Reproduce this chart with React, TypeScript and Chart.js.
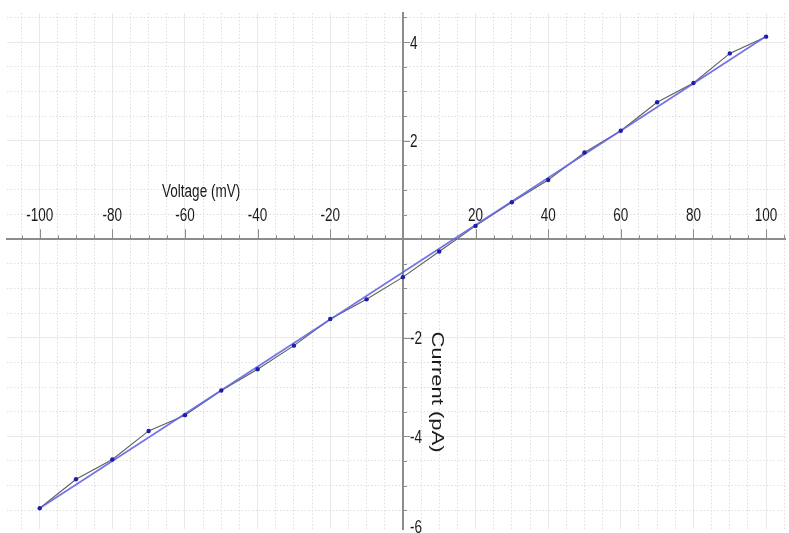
import React, { useEffect, useRef } from 'react';
import { Chart, registerables } from 'chart.js';

Chart.register(...registerables);

// Measured I–V points (mV, pA)
const voltage = [-100, -90, -80, -70, -60, -50, -40, -30, -20, -10, 0, 10, 20, 30, 40, 50, 60, 70, 80, 90, 100];
const current = [-5.46, -4.87, -4.47, -3.89, -3.57, -3.07, -2.64, -2.16, -1.62, -1.22, -0.77, -0.25, 0.27, 0.75, 1.2, 1.76, 2.2, 2.78, 3.17, 3.77, 4.11];

// Linear fit end points
const fitVoltage = [-100, 100];
const fitCurrent = [-5.46, 4.12];

// Axis labelling
const xTickLabels = [-100, -80, -60, -40, -20, 20, 40, 60, 80, 100];
const yTickLabels = [4, 2, -2, -4, -6];
const xTitle = 'Voltage (mV)';
const yTitle = 'Current (pA)';

const X_MIN = -109;
const X_MAX = 105.2;
const Y_MIN = -5.88;
const Y_MAX = 4.59;
const X_STEP = 5;
const Y_STEP = 0.5;
const X_MAJOR = 20;
const Y_MAJOR = 2;

const FONT = '"Liberation Sans", Arial, sans-serif';
const SQUEEZE = 0.75;
const TEXT = '#1a1a1a';
const AXIS = '#8c8c8c';

const isMult = (v: number, m: number) => Math.abs(v / m - Math.round(v / m)) < 1e-6;

const stepTicks = (step: number) => (scale: any) => {
  const out: { value: number }[] = [];
  for (let k = Math.ceil(scale.min / step); k * step <= scale.max + 1e-9; k++) {
    out.push({ value: Math.round(k * step * 1000) / 1000 });
  }
  scale.ticks = out;
};

function squeezedText(ctx: CanvasRenderingContext2D, text: string, x: number, y: number, size: number, align: CanvasTextAlign) {
  ctx.save();
  ctx.translate(x, y);
  ctx.scale(SQUEEZE, 1);
  ctx.font = `${size}px ${FONT}`;
  ctx.fillStyle = TEXT;
  ctx.textAlign = align;
  ctx.textBaseline = 'middle';
  ctx.fillText(text, 0, 0);
  ctx.restore();
}

// Tick marks, tick labels and axis titles drawn along the crossing axes
const crossAxes = {
  id: 'crossAxes',
  afterDraw(chart: any) {
    const { ctx, chartArea, scales } = chart;
    const xs = scales.x;
    const ys = scales.y;
    const ax = xs.getPixelForValue(0);
    const ay = ys.getPixelForValue(0);

    ctx.save();
    ctx.strokeStyle = AXIS;
    ctx.lineWidth = 1;
    ctx.beginPath();
    for (const t of xs.ticks) {
      if (t.value === 0) continue;
      const px = Math.round(xs.getPixelForValue(t.value)) + 0.5;
      const len = isMult(t.value, X_MAJOR) ? 10 : 4;
      ctx.moveTo(px, ay);
      ctx.lineTo(px, ay - len);
    }
    for (const t of ys.ticks) {
      if (t.value === 0) continue;
      const py = Math.round(ys.getPixelForValue(t.value)) + 0.5;
      const len = isMult(t.value, Y_MAJOR) ? 7 : 4;
      ctx.moveTo(ax, py);
      ctx.lineTo(ax + len, py);
    }
    ctx.stroke();
    ctx.restore();

    for (const v of xTickLabels) {
      squeezedText(ctx, String(v), xs.getPixelForValue(v), ay - 23, 18, 'center');
    }
    for (const v of yTickLabels) {
      const py = Math.min(ys.getPixelForValue(v) + 1.5, chartArea.bottom - 1);
      squeezedText(ctx, String(v), ax + 7, py, 18, 'left');
    }

    squeezedText(ctx, xTitle, xs.getPixelForValue(-66.3), ay - 47.5, 18, 'left');

    ctx.save();
    ctx.translate(ax + 34, ys.getPixelForValue(-3.1));
    ctx.rotate(Math.PI / 2);
    ctx.scale(1, SQUEEZE);
    ctx.font = `22px ${FONT}`;
    ctx.fillStyle = TEXT;
    ctx.textAlign = 'center';
    ctx.textBaseline = 'middle';
    ctx.fillText(yTitle, 0, 0);
    ctx.restore();
  },
};

function gridColor(major: number) {
  return (c: any) => {
    if (!c.tick) return '#dedede';
    const v = c.tick.value;
    if (v === 0) return 'rgba(0,0,0,0)';
    return isMult(v, major) ? '#e9e9e9' : '#dedede';
  };
}

function gridDash(major: number) {
  return (c: any) => {
    if (!c.tick) return [];
    return isMult(c.tick.value, major) ? [] : [1.5, 2];
  };
}

export default function App() {
  const canvasRef = useRef<HTMLCanvasElement | null>(null);

  useEffect(() => {
    const canvas = canvasRef.current;
    if (!canvas) return;

    const measured = voltage.map((v, i) => ({ x: v, y: current[i] }));
    const fit = fitVoltage.map((v, i) => ({ x: v, y: fitCurrent[i] }));

    const chart = new Chart(canvas, {
      type: 'scatter',
      data: {
        datasets: [
          {
            label: 'points',
            data: measured,
            showLine: false,
            pointRadius: 2.2,
            pointBackgroundColor: '#1e1eaa',
            pointBorderColor: '#1e1eaa',
            pointBorderWidth: 0,
            order: 0,
          },
          {
            label: 'fit',
            data: fit,
            showLine: true,
            borderColor: 'rgba(100,100,232,0.9)',
            borderWidth: 1.7,
            pointRadius: 0,
            order: 1,
          },
          {
            label: 'measured',
            data: measured,
            showLine: true,
            borderColor: '#5c6058',
            borderWidth: 1.1,
            pointRadius: 0,
            order: 2,
          },
        ],
      },
      plugins: [crossAxes],
      options: {
        responsive: false,
        animation: false,
        devicePixelRatio: 1,
        events: [],
        layout: { padding: { left: 7, top: 13, right: 0, bottom: 0 } },
        plugins: {
          legend: { display: false },
          tooltip: { enabled: false },
          title: { display: false },
        },
        scales: {
          x: {
            type: 'linear',
            min: X_MIN,
            max: X_MAX,
            position: { y: 0 } as any,
            afterBuildTicks: stepTicks(X_STEP),
            ticks: { display: false, autoSkip: false },
            grid: {
              color: gridColor(X_MAJOR),
              lineWidth: 1,
              drawTicks: false,
            },
            border: { display: true, color: AXIS, width: 2, dash: gridDash(X_MAJOR) as any },
          },
          y: {
            type: 'linear',
            min: Y_MIN,
            max: Y_MAX,
            position: { x: 0 } as any,
            afterBuildTicks: stepTicks(Y_STEP),
            ticks: { display: false, autoSkip: false },
            grid: {
              color: gridColor(Y_MAJOR),
              lineWidth: 1,
              drawTicks: false,
            },
            border: { display: true, color: AXIS, width: 2, dash: gridDash(Y_MAJOR) as any },
          },
        },
      },
    });

    return () => chart.destroy();
  }, []);

  return (
    <div style={{ position: 'fixed', left: 0, top: 0, width: 789, height: 533, background: '#fff' }}>
      <canvas ref={canvasRef} width={789} height={533} style={{ display: 'block' }} />
    </div>
  );
}
